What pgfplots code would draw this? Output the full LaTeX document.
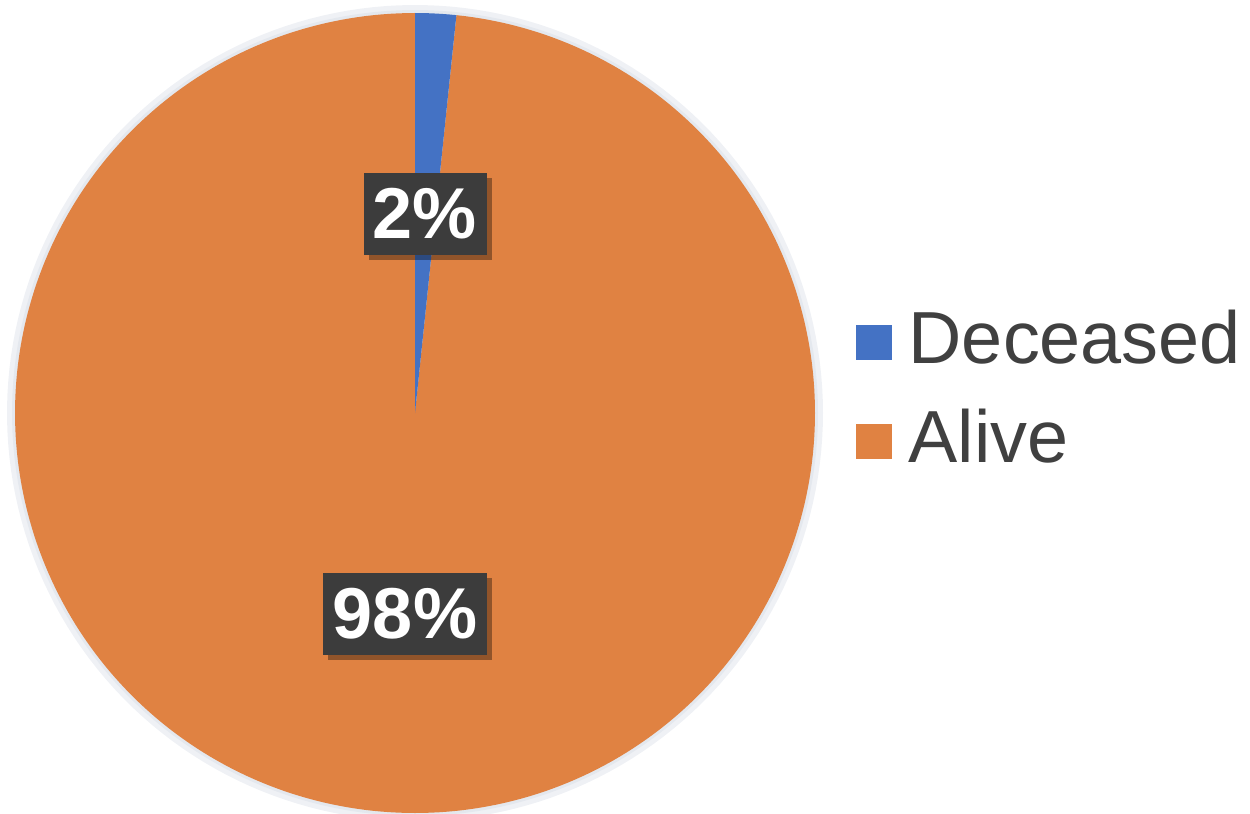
\documentclass[border=0pt]{standalone}
\usepackage{fontspec}
\setmainfont{Liberation Sans}
\usepackage{pgfplots}
\usepackage{pgfplotstable}
\pgfplotsset{compat=1.18}
\usetikzlibrary{shadows}
\definecolor{pieblue}{HTML}{4472C4}
\definecolor{pieorange}{HTML}{E08242}
\definecolor{boxgray}{HTML}{3C3C3C}
\definecolor{legtext}{HTML}{404040}
\definecolor{halo}{HTML}{E4E8EE}
\pgfplotstableread{
label value
Deceased 1.65
Alive 98.35
}\piedata
\pgfplotstablegetelem{0}{value}\of\piedata
\pgfmathsetmacro\aA{90-3.6*\pgfplotsretval}
\begin{document}%
\begin{tikzpicture}
\begin{axis}[name=ax, at={(0,0)}, anchor=south west,
  scale only axis, width=125mm, height=81.3mm,
  xmin=0, xmax=1250, ymin=0, ymax=813,
  hide axis, clip=false,
  legend style={at={(axis cs:845,518)}, anchor=north west, draw=none, fill=none,
    font=\fontsize{21}{25}\selectfont, text=legtext, row sep=2.6mm},
  legend cell align=left,
]
% soft halo
\addplot[draw=none, fill=halo!60, domain=0:360, samples=200, variable=\t, forget plot]
  ({415+408*cos(\t)},{400+408*sin(\t)}) -- cycle;
\addplot[draw=none, fill=halo, domain=0:360, samples=200, variable=\t, forget plot]
  ({415+403*cos(\t)},{400+403*sin(\t)}) -- cycle;
% Alive
\addplot[draw=none, fill=pieorange, domain=-270:\aA, samples=300, variable=\t, forget plot]
  ({415+400*cos(\t)},{400+400*sin(\t)}) -- (axis cs:415,400) -- cycle;
% Deceased
\addplot[draw=none, fill=pieblue, domain=\aA:90, samples=20, variable=\t, forget plot]
  ({415+400*cos(\t)},{400+400*sin(\t)}) -- (axis cs:415,400) -- cycle;
\addlegendimage{legend image code/.code={\fill[pieblue] (0mm,-2.0mm) rectangle (3.4mm,1.3mm);}}
\addlegendentry{\hspace*{1mm}Deceased}
\addlegendimage{legend image code/.code={\fill[pieorange] (0mm,-2.0mm) rectangle (3.4mm,1.3mm);}}
\addlegendentry{\hspace*{1mm}Alive}
\node[fill=boxgray, text=white, font=\fontsize{20.5}{24}\selectfont\bfseries,
  minimum width=12.3mm, minimum height=8.2mm, inner sep=0pt,
  drop shadow={shadow xshift=0.5mm, shadow yshift=-0.5mm, fill=black, opacity=0.35}]
  at (axis cs:425,599) {2\%};
\node[fill=boxgray, text=white, font=\fontsize{20.5}{24}\selectfont\bfseries,
  minimum width=16.4mm, minimum height=8.2mm, inner sep=0pt,
  drop shadow={shadow xshift=0.5mm, shadow yshift=-0.5mm, fill=black, opacity=0.35}]
  at (axis cs:405,199) {98\%};
\end{axis}
\pgfresetboundingbox
\path[use as bounding box] (0,0) rectangle (125mm,81.3mm);
\end{tikzpicture}%
\end{document}
